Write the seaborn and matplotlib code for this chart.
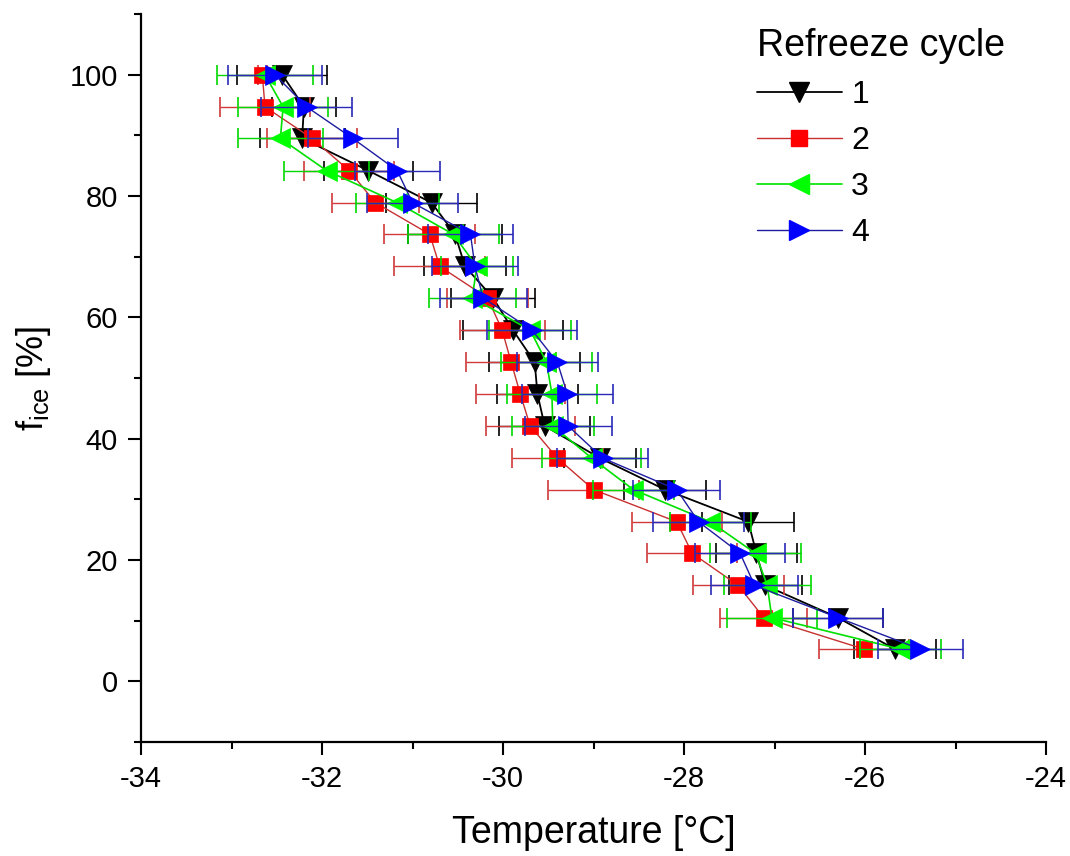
import numpy as np
import pandas as pd
import matplotlib
matplotlib.use("Agg")
import matplotlib.pyplot as plt
from matplotlib.lines import Line2D
from matplotlib.ticker import MultipleLocator
import seaborn as sns

# ---------------- data ----------------
f_ice = [5.3, 10.5, 15.8, 21.1, 26.3, 31.6, 36.8, 42.1, 47.4, 52.6,
         57.9, 63.2, 68.4, 73.7, 78.9, 84.2, 89.5, 94.7, 100.0]

cycle_labels = ["1", "2", "3", "4"]

temp_c1 = [-25.67, -26.30, -27.10, -27.20, -27.29, -28.21, -28.93, -29.54, -29.62, -29.65,
           -29.89, -30.11, -30.42, -30.53, -30.79, -31.49, -32.22, -32.20, -32.44]
err_c1 = [0.45, 0.50, 0.40, 0.45, 0.51, 0.45, 0.40, 0.50, 0.45, 0.50,
          0.55, 0.46, 0.45, 0.52, 0.50, 0.49, 0.47, 0.35, 0.50]

temp_c2 = [-26.01, -27.12, -27.40, -27.91, -28.08, -29.00, -29.40, -29.70, -29.81, -29.91,
           -30.01, -30.17, -30.70, -30.81, -31.41, -31.70, -32.11, -32.63, -32.66]
err_c2 = [0.50, 0.48, 0.50, 0.50, 0.50, 0.50, 0.50, 0.49, 0.49, 0.50,
          0.47, 0.45, 0.50, 0.50, 0.48, 0.50, 0.50, 0.50, 0.05]

temp_c3 = [-25.61, -27.03, -27.08, -27.21, -27.71, -28.56, -29.02, -29.45, -29.46, -29.52,
           -29.70, -30.34, -30.29, -30.55, -31.17, -31.95, -32.46, -32.43, -32.63]
err_c3 = [0.45, 0.50, 0.48, 0.50, 0.45, 0.45, 0.55, 0.45, 0.50, 0.50,
          0.45, 0.48, 0.40, 0.50, 0.46, 0.47, 0.47, 0.50, 0.53]

temp_c4 = [-25.39, -26.30, -27.22, -27.38, -27.84, -28.08, -28.90, -29.28, -29.29, -29.40,
           -29.68, -30.22, -30.31, -30.36, -31.00, -31.17, -31.66, -32.17, -32.52]
err_c4 = [0.47, 0.50, 0.48, 0.50, 0.50, 0.48, 0.50, 0.48, 0.50, 0.45,
          0.50, 0.48, 0.48, 0.47, 0.50, 0.47, 0.50, 0.50, 0.52]

x_ticks = [-34, -32, -30, -28, -26, -24]
y_ticks = [0, 20, 40, 60, 80, 100]

# ---------------- style ----------------
sns.set_theme(style="ticks")
plt.rcParams["font.family"] = ["Liberation Sans", "DejaVu Sans"]
plt.rcParams["mathtext.default"] = "regular"
plt.rcParams["text.color"] = "black"
plt.rcParams["axes.labelcolor"] = "black"
plt.rcParams["xtick.color"] = "black"
plt.rcParams["ytick.color"] = "black"

series = [
    dict(t=temp_c1, e=err_c1, line="#000000", face="#000000", ecol="#000000", marker="v", lw=1.3),
    dict(t=temp_c2, e=err_c2, line="#c83030", face="#ff0000", ecol="#d03a3a", marker="s", lw=1.0),
    dict(t=temp_c3, e=err_c3, line="#00e000", face="#00ff00", ecol="#00d800", marker="<", lw=1.2),
    dict(t=temp_c4, e=err_c4, line="#1c1ca0", face="#0000ff", ecol="#2a2ab8", marker=">", lw=1.0),
]


def msize(m):
    return 11.5 if m == "s" else 14


fig = plt.figure(figsize=(10.7, 8.56), dpi=100)
ax = fig.add_axes([0.1318, 0.1332, 0.8458, 0.8504])

for i, s in enumerate(series):
    df = pd.DataFrame({"T": s["t"], "f": f_ice})
    ax.errorbar(df["T"], df["f"], xerr=s["e"], fmt="none", ecolor=s["ecol"],
                elinewidth=1.0, capsize=7, capthick=1.2, zorder=2 + i)
    sns.lineplot(data=df, x="T", y="f", sort=False, estimator=None, ax=ax,
                 color=s["line"], lw=s["lw"], marker=s["marker"], markersize=msize(s["marker"]),
                 markerfacecolor=s["face"], markeredgecolor=s["face"],
                 markeredgewidth=0.5, zorder=2.5 + i, legend=False)

ax.set_xlim(-34, -24)
ax.set_ylim(-10, 110)
ax.set_xticks(x_ticks)
ax.set_yticks(y_ticks)
ax.set_xticklabels([str(v) for v in x_ticks])
ax.xaxis.set_minor_locator(MultipleLocator(1))
ax.yaxis.set_minor_locator(MultipleLocator(10))

for side in ["top", "right"]:
    ax.spines[side].set_visible(False)
for side in ["left", "bottom"]:
    ax.spines[side].set_linewidth(1.6)
    ax.spines[side].set_color("black")

ax.tick_params(axis="both", which="major", direction="out", length=9.5, width=1.5,
               labelsize=21, colors="black", pad=7)
ax.tick_params(axis="both", which="minor", direction="out", length=5, width=1.5, colors="black")

ax.set_xlabel("Temperature [°C]", fontsize=27, labelpad=16, color="black")
ax.set_ylabel(r"f$_{ice}$ [%]", fontsize=26, labelpad=12, color="black")

handles = []
for s in series:
    handles.append(Line2D([], [], color=s["line"], lw=s["lw"], marker=s["marker"],
                          markersize=msize(s["marker"]), markerfacecolor=s["face"],
                          markeredgecolor=s["face"]))

leg = ax.legend(handles, cycle_labels, title="Refreeze cycle", loc="upper left",
                bbox_to_anchor=(757 / 1070, 1 - 28 / 856), bbox_transform=fig.transFigure,
                frameon=False, fontsize=23, title_fontsize=27, handlelength=2.65,
                handletextpad=0.3, labelspacing=0.5, borderpad=0, borderaxespad=0,
                alignment="left")
leg.get_title().set_color("black")
for t in leg.get_texts():
    t.set_color("black")

fig.savefig("out.png", dpi=100, facecolor="white")
